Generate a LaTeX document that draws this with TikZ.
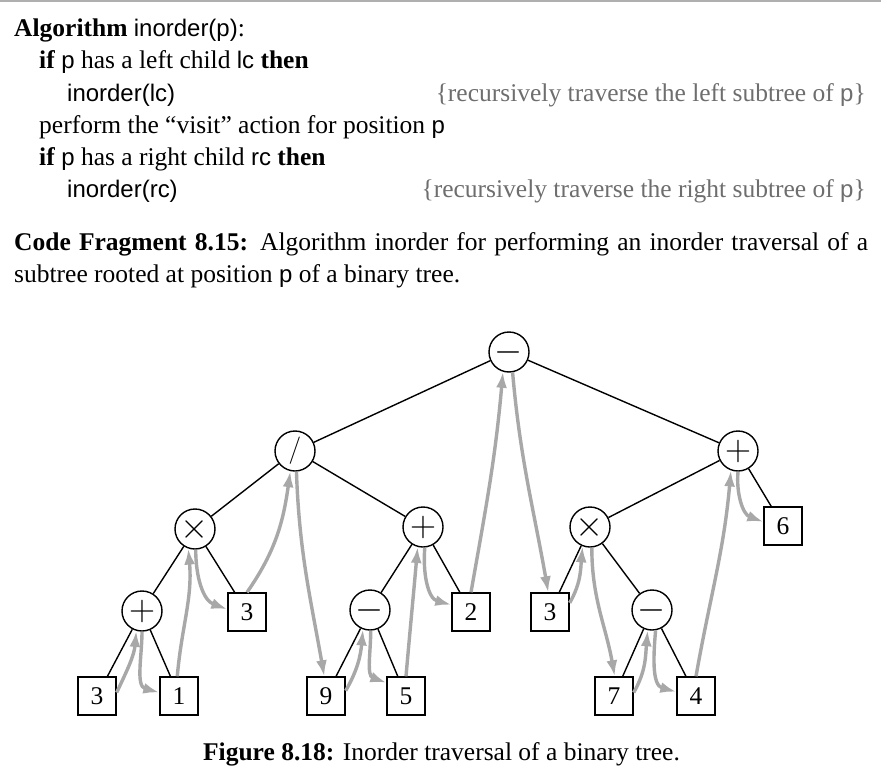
\documentclass[tikz,border=0pt]{standalone}
\usepackage{graphicx}
\usepackage{fontspec}
\setmainfont{Liberation Serif}
\newfontfamily\codefont{Liberation Sans}[Scale=0.94]
\usetikzlibrary{arrows.meta}
\newcommand{\cf}[1]{{\codefont #1}}
\newcommand{\opsym}[2][1.45]{\scalebox{#1}{$#2$}}
\definecolor{tourgray}{RGB}{168,168,168}
\definecolor{cmtgray}{RGB}{110,110,110}
\definecolor{rulegray}{RGB}{175,175,175}
\begin{document}
\begin{tikzpicture}[x=1pt,y=1pt,
  every node/.style={font=\fontsize{25.5}{32}\selectfont, inner sep=0pt},
  op/.style={circle, draw, line width=1.4pt, minimum size=40pt, inner sep=0pt},
  leaf/.style={rectangle, draw, line width=1.4pt, minimum size=38pt, inner sep=0pt},
  edge/.style={line width=1.4pt},
  tour/.style={draw=tourgray, line width=3.4pt, -{Latex[length=16pt,width=11pt]}},
  txt/.style={anchor=base west},
  cmt/.style={anchor=base east, text=cmtgray}]
\useasboundingbox (0,0) rectangle (881,-776);
\fill[white] (0,0) rectangle (881,-776);
\draw[rulegray, line width=1.6pt] (0,-0.8) -- (881,-0.8);

% code fragment
\node[txt] (l1) at (14,-37) {\textbf{Algorithm} \cf{inorder(p)}:};
\node[txt] (l2) at (39,-69) {\textbf{if} \cf{p} has a left child \cf{lc} \textbf{then}};
\node[txt] (l3) at (67,-101) {\cf{inorder(lc)}};
\node[cmt] (c3) at (866,-101) {\{recursively traverse the left subtree of \cf{p}\}};
\node[txt] (l4) at (39,-133) {perform the ``visit'' action for position \cf{p}};
\node[txt] (l5) at (39,-165) {\textbf{if} \cf{p} has a right child \cf{rc} \textbf{then}};
\node[txt] (l6) at (67,-197) {\cf{inorder(rc)}};
\node[cmt] (c6) at (866,-197) {\{recursively traverse the right subtree of \cf{p}\}};

\node[txt] (cap1) at (14,-250) {\makebox[854pt][s]{\textbf{Code Fragment 8.15:} Algorithm inorder for performing an inorder traversal of a}};
\node[txt] (cap2) at (14,-282) {subtree rooted at position \cf{p} of a binary tree.};

\node[anchor=base] (figcap) at (441.5,-760) {\textbf{Figure 8.18:} Inorder traversal of a binary tree.};

% tree nodes
\node[op] (r)  at (509,-352) {\opsym{-}};
\node[op] (d)  at (295,-451) {\opsym[1.1]{/}};
\node[op] (m1) at (195,-529) {\opsym{\times}};
\node[op] (p1) at (142,-611) {\opsym{+}};
\node[leaf] (a) at (97,-696) {3};
\node[leaf] (b) at (179,-696) {1};
\node[leaf] (c) at (247,-612) {3};
\node[op] (p2) at (423,-527) {\opsym{+}};
\node[op] (s1) at (370,-610) {\opsym{-}};
\node[leaf] (e) at (326,-696) {9};
\node[leaf] (f) at (406,-696) {5};
\node[leaf] (g) at (471,-612) {2};
\node[op] (p3) at (738,-451) {\opsym{+}};
\node[op] (m2) at (590,-527) {\opsym{\times}};
\node[leaf] (h) at (550,-612) {3};
\node[op] (s2) at (652,-610) {\opsym{-}};
\node[leaf] (i) at (614,-696) {7};
\node[leaf] (j) at (696,-696) {4};
\node[leaf] (k) at (783,-526) {6};

% tree edges
\foreach \u/\v in {r/d, r/p3, d/m1, d/p2, m1/p1, m1/c, p1/a, p1/b, p2/s1, p2/g, s1/e, s1/f, p3/m2, p3/k, m2/h, m2/s2, s2/i, s2/j}
  \draw[edge] (\u) -- (\v);

% inorder tour
\draw[tour] (a.10) to[out=65,in=-95] (p1.-106);
\draw[tour] (p1.-90) to[out=-90,in=165] (b.170);
\draw[tour] (b.95) to[out=85,in=-85] (m1.-109);
\draw[tour] (m1.-88) to[out=-90,in=160] (c.172);
\draw[tour] (c.north) to[out=55,in=-98] (d.-103);
\draw[tour] (d.-86) to[out=-88,in=100] (e.95);
\draw[tour] (e.15) to[out=60,in=-95] (s1.-110);
\draw[tour] (s1.-88) to[out=-90,in=160] (f.146);
\draw[tour] (f.north) to[out=85,in=-95] (p2.-105);
\draw[tour] (p2.-85) to[out=-95,in=165] (g.160);
\draw[tour] (g.north) to[out=80,in=-95] (r.-107);
\draw[tour] (r.-80) to[out=-85,in=100] (h.95);
\draw[tour] (h.25) to[out=60,in=-95] (m2.-111);
\draw[tour] (m2.-85) to[out=-90,in=100] (i.88);
\draw[tour] (i.10) to[out=60,in=-95] (s2.-102);
\draw[tour] (s2.-80) to[out=-95,in=165] (j.168);
\draw[tour] (j.north) to[out=80,in=-95] (p3.-110);
\draw[tour] (p3.-90) to[out=-95,in=160] (k.168);
\end{tikzpicture}
\end{document}
